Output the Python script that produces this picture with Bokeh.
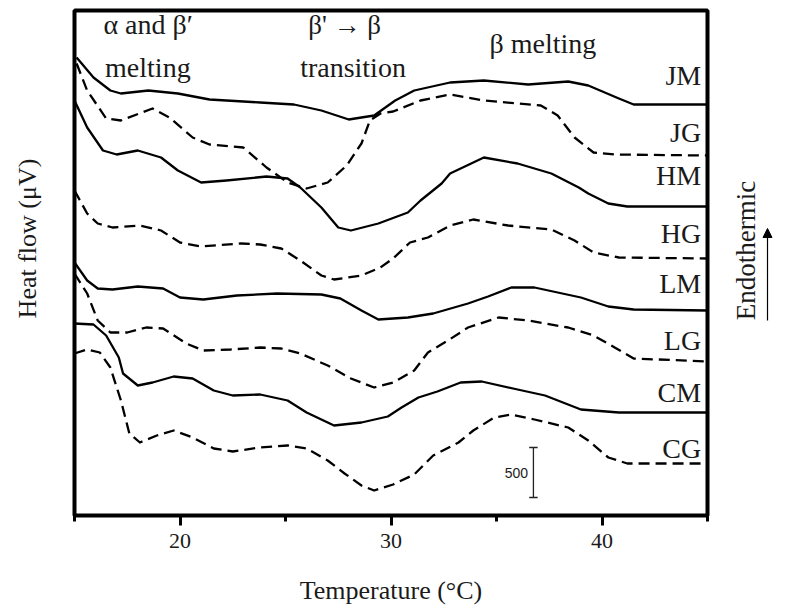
import math
from bokeh.plotting import figure
from bokeh.layouts import row
from bokeh.models import Range1d, FixedTicker, Label, Arrow, NormalHead
from bokeh.core.properties import value
from bokeh.embed import file_html
from bokeh.resources import INLINE

# ---------------- data (temperature in °C, heat flow in µV, offset curves) ----------------
temp_JM = [15.1, 15.9, 16.7, 17.2, 18.5, 19.9, 21.4, 23.8, 25.4, 26.7, 28.0, 29.2, 30.2, 31.1, 32.8, 34.4, 36.5, 38.4, 39.35, 40.8, 41.5, 45.0]
hf_JM = [4630, 4430, 4300, 4270, 4300, 4270, 4210, 4180, 4160, 4100, 4010, 4050, 4200, 4300, 4380, 4400, 4360, 4390, 4350, 4220, 4160, 4160]

temp_JG = [15.1, 15.6, 16.5, 17.2, 18.7, 19.5, 20.6, 21.4, 23.0, 24.1, 25.1, 26.0, 27.0, 27.9, 28.6, 29.0, 29.5, 30.1, 31.4, 32.8, 34.4, 37.1, 37.9, 38.7, 39.6, 40.6, 45.0]
hf_JG = [4570, 4300, 4020, 4000, 4120, 4030, 3830, 3760, 3730, 3530, 3380, 3320, 3380, 3550, 3770, 4000, 4070, 4090, 4200, 4260, 4200, 4150, 4050, 3830, 3680, 3660, 3650]

temp_HM = [15.0, 15.6, 16.35, 17.0, 18.0, 19.1, 19.9, 21.0, 22.2, 24.1, 25.1, 25.7, 26.7, 27.5, 28.1, 29.4, 30.8, 31.4, 32.4, 32.8, 34.4, 36.0, 37.6, 38.9, 39.35, 40.3, 41.2, 45.0]
hf_HM = [4200, 3930, 3700, 3660, 3700, 3630, 3500, 3380, 3400, 3440, 3420, 3330, 3130, 2930, 2900, 2970, 3080, 3200, 3370, 3470, 3630, 3570, 3470, 3330, 3270, 3170, 3140, 3140]

temp_HG = [15.0, 15.6, 16.1, 16.8, 18.1, 19.1, 20.0, 21.0, 22.9, 23.8, 24.8, 25.7, 26.7, 27.3, 28.6, 29.5, 30.1, 30.9, 31.75, 32.8, 33.9, 35.55, 37.6, 38.7, 39.6, 40.8, 45.0]
hf_HG = [3300, 3070, 2970, 2930, 2950, 2900, 2780, 2740, 2770, 2760, 2720, 2600, 2450, 2410, 2450, 2530, 2620, 2780, 2830, 2950, 3010, 2950, 2910, 2800, 2680, 2630, 2620]

temp_LM = [15.0, 15.6, 16.1, 16.8, 18.0, 19.2, 20.0, 21.1, 22.7, 24.6, 26.7, 27.6, 28.6, 29.4, 30.8, 32.0, 33.65, 34.6, 35.7, 36.8, 39.0, 40.3, 41.5, 45.0]
hf_LM = [2580, 2400, 2320, 2310, 2340, 2320, 2230, 2210, 2250, 2270, 2260, 2220, 2100, 2010, 2030, 2070, 2170, 2240, 2330, 2330, 2230, 2140, 2110, 2100]

temp_LG = [15.0, 15.6, 16.1, 16.7, 17.5, 18.4, 19.2, 20.3, 21.1, 22.4, 23.8, 24.8, 25.7, 27.0, 28.1, 29.2, 30.1, 31.1, 31.75, 32.7, 33.65, 35.1, 36.5, 38.4, 39.6, 40.6, 41.5, 45.0]
hf_LG = [2470, 2270, 2000, 1880, 1880, 1930, 1920, 1770, 1700, 1710, 1730, 1720, 1670, 1550, 1420, 1330, 1380, 1500, 1680, 1800, 1930, 2030, 2000, 1930, 1850, 1730, 1620, 1590]

temp_CM = [15.0, 15.9, 16.5, 17.1, 17.3, 18.0, 18.7, 19.7, 20.6, 21.6, 22.5, 23.8, 25.1, 26.0, 27.3, 28.6, 29.85, 30.5, 31.3, 32.2, 33.3, 34.3, 36.0, 37.3, 39.0, 40.8, 45.0]
hf_CM = [1970, 1960, 1850, 1630, 1470, 1350, 1380, 1440, 1420, 1300, 1250, 1260, 1200, 1080, 950, 980, 1040, 1130, 1230, 1290, 1380, 1390, 1310, 1250, 1110, 1080, 1080]

temp_CG = [15.0, 15.6, 16.2, 16.7, 17.2, 17.6, 18.1, 18.9, 19.7, 20.6, 21.6, 22.5, 23.8, 25.1, 26.0, 27.0, 27.8, 28.6, 29.2, 30.1, 31.1, 32.0, 33.2, 33.9, 34.9, 35.7, 36.8, 38.4, 39.35, 40.3, 41.2, 45.0]
hf_CG = [1670, 1710, 1680, 1530, 1200, 870, 780, 850, 900, 830, 720, 690, 730, 750, 720, 600, 470, 350, 300, 360, 460, 650, 780, 900, 1030, 1060, 1010, 930, 800, 630, 570, 570]

curve_names = ["JM", "JG", "HM", "HG", "LM", "LG", "CM", "CG"]
x_ticks = [20, 30, 40]
x_minor_ticks = [15, 25, 35, 45]
scale_bar_value = 500  # µV

series = {
    "JM": (temp_JM, hf_JM), "JG": (temp_JG, hf_JG),
    "HM": (temp_HM, hf_HM), "HG": (temp_HG, hf_HG),
    "LM": (temp_LM, hf_LM), "LG": (temp_LG, hf_LG),
    "CM": (temp_CM, hf_CM), "CG": (temp_CG, hf_CG),
}

# ---------------- layout ----------------
SERIF = "Liberation Serif"
TXT = "#1a1a1a"
H, TOP, BOTTOM = 612, 10, 97
yr = Range1d(50, 5100)

p = figure(width=660, height=H, output_backend="svg", toolbar_location=None,
           x_range=Range1d(15, 45), y_range=yr,
           min_border_left=14, min_border_right=13, min_border_top=TOP, min_border_bottom=BOTTOM)
p.outline_line_color = "black"
p.outline_line_width = 4
p.xgrid.visible = False
p.ygrid.visible = False
p.yaxis.visible = False
p.background_fill_color = "white"
p.border_fill_color = "white"

ax = p.xaxis[0]
ax.ticker = FixedTicker(ticks=x_ticks, minor_ticks=x_minor_ticks)
ax.axis_line_color = None
ax.major_tick_line_width = 3
ax.major_tick_line_color = "black"
ax.major_tick_out = 10
ax.major_tick_in = 0
ax.minor_tick_line_width = 3
ax.minor_tick_line_color = "black"
ax.minor_tick_out = 6
ax.minor_tick_in = 0
ax.major_label_text_font = SERIF
ax.major_label_text_font_size = "22px"
ax.major_label_text_color = TXT
ax.major_label_standoff = 8
ax.axis_label = "Temperature (°C)"
ax.axis_label_text_font = SERIF
ax.axis_label_text_font_style = "normal"
ax.axis_label_text_font_size = "26px"
ax.axis_label_text_color = TXT
ax.axis_label_standoff = 25

# ---------------- curves ----------------
for name in curve_names:
    t, h = series[name]
    dash = "solid" if name.endswith("M") else "11 6"
    p.line(t, h, line_color="black", line_width=2.3, line_dash=dash, line_join="round")

# curve labels (right side, inside frame)
label_y = {"JM": 4450, "JG": 3880, "HM": 3450, "HG": 2870, "LM": 2370, "LG": 1800, "CM": 1280, "CG": 720}
for name in curve_names:
    p.add_layout(Label(x=44.7, y=label_y[name], text=name, text_align="right",
                       text_baseline="middle", text_font=SERIF, text_font_size="28px",
                       text_color=TXT))

def ann(x, y, s, size="27px", align="left"):
    p.add_layout(Label(x=x, y=y, text=s, text_align=align, text_baseline="middle",
                       text_font=SERIF, text_font_size=size, text_color=TXT))

ann(16.37, 4960, "α and β′", size="28px")
ann(16.45, 4530, "melting", size="28px")
ann(27.8, 4960, "β' → β", align="center")
ann(28.2, 4530, "transition", size="28px", align="center")
ann(37.2, 4770, "β melting", size="28px", align="center")

# scale bar
sb_x, sb_y0 = 36.75, 230
p.segment([sb_x], [sb_y0], [sb_x], [sb_y0 + scale_bar_value], line_color="#222222", line_width=1.3)
p.segment([sb_x - 0.2, sb_x - 0.2], [sb_y0, sb_y0 + scale_bar_value],
          [sb_x + 0.2, sb_x + 0.2], [sb_y0, sb_y0 + scale_bar_value], line_color="#222222", line_width=1.3)
p.add_layout(Label(x=36.5, y=sb_y0 + scale_bar_value / 2, text=str(scale_bar_value), text_align="right",
                   text_baseline="middle", text_font="Liberation Sans", text_font_size="14px",
                   text_color=TXT))

# ---------------- side panels ----------------
def panel(width):
    f = figure(width=width, height=H, output_backend="svg", toolbar_location=None,
               x_range=Range1d(0, width), y_range=yr,
               min_border_left=0, min_border_right=0, min_border_top=TOP, min_border_bottom=BOTTOM)
    f.axis.visible = False
    f.grid.visible = False
    f.outline_line_color = None
    f.background_fill_color = "white"
    f.border_fill_color = "white"
    return f

left = panel(60)
left.text(x=[27], y=[2820], text=["Heat flow (μV)"], angle=math.pi / 2, text_align="center",
          text_baseline="middle", text_font=value(SERIF), text_font_size="26px", text_color=TXT)

side = panel(60)
side.text(x=[25], y=[2700], text=["Endothermic"], angle=math.pi / 2, text_align="center",
          text_baseline="middle", text_font=value(SERIF), text_font_size="27px", text_color=TXT)
side.add_layout(Arrow(end=NormalHead(size=9, fill_color="black", line_color="black"),
                      x_start=47, y_start=2000, x_end=47, y_end=2920,
                      line_color="black", line_width=1.2))

layout = row(left, p, side)
open("out.html", "w").write(file_html(layout, INLINE))
